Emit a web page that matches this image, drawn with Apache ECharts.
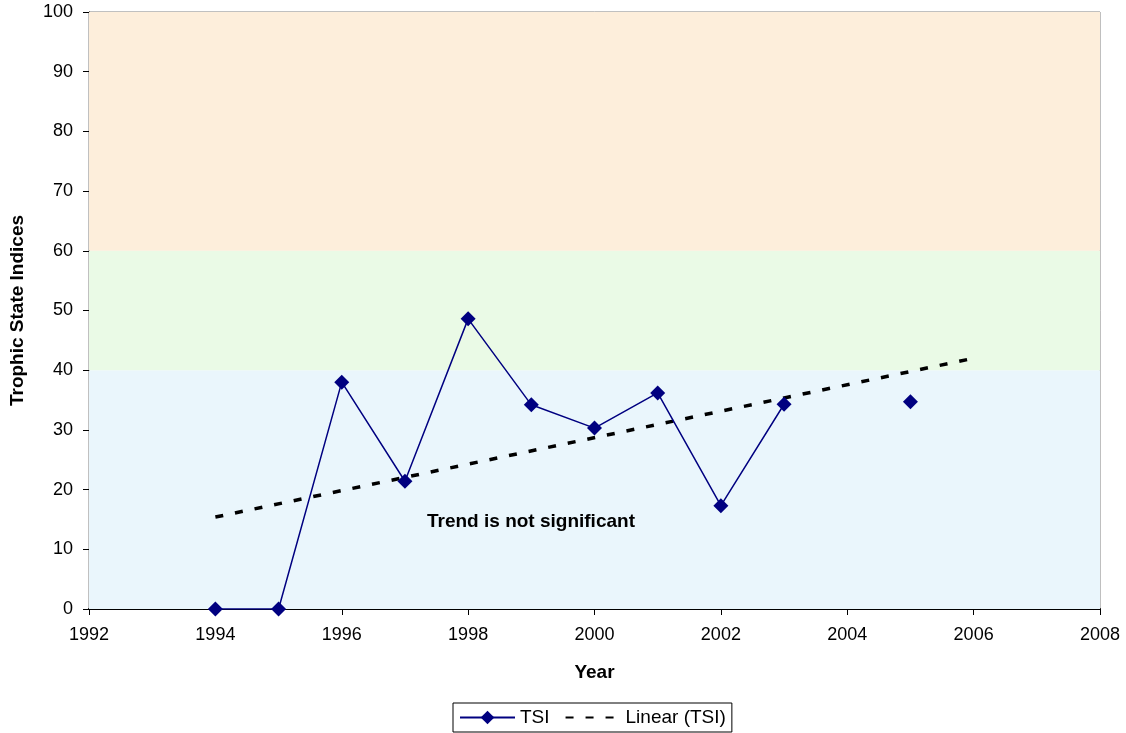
<!DOCTYPE html>
<html>
<head>
<meta charset="utf-8">
<script src="https://cdn.jsdelivr.net/npm/echarts@6/dist/echarts.min.js"></script>
<style>
  html, body { margin: 0; padding: 0; background: #fff; }
  #chart { width: 1126px; height: 733px; }
</style>
</head>
<body>
<div id="chart"></div>
<script>
// TSI readings by year (2004 has no sample)
const years = [1994, 1995, 1996, 1997, 1998, 1999, 2000, 2001, 2002, 2003, 2004, 2005];
const tsi = [0, 0, 38.0, 21.4, 48.6, 34.2, 30.3, 36.2, 17.3, 34.3, null, 34.7];

// linear trend end points
const trendYears = [1994, 2006];
const trendValues = [15.4, 42.0];

// trophic bands
const bands = [
  {from: 0, to: 40, color: '#eaf6fc'},
  {from: 40, to: 60, color: '#eafae6'},
  {from: 60, to: 100, color: '#fdeedb'},
];

const font = 'Arial, "Liberation Sans", sans-serif';

const tsiData = years.map((y, i) => [y, tsi[i] === null ? '-' : tsi[i]]);
const trendData = trendYears.map((y, i) => [y, trendValues[i]]);

const chart = echarts.init(document.getElementById('chart'), null, {renderer: 'canvas'});

chart.setOption({
  animation: false,
  textStyle: {fontFamily: font},
  grid: {
    left: 88,
    right: 26,
    top: 12,
    bottom: 124,
    show: true,
    borderColor: '#808080',
    borderWidth: 1,
  },
  xAxis: {
    type: 'value',
    min: 1992,
    max: 2008,
    interval: 2,
    name: 'Year',
    nameLocation: 'middle',
    nameGap: 54,
    nameTextStyle: {fontWeight: 'bold', fontSize: 19, color: '#000', fontFamily: font},
    axisLine: {onZero: false, lineStyle: {color: '#000', width: 2}},
    axisTick: {show: true, length: 6, lineStyle: {color: '#000'}},
    axisLabel: {color: '#000', fontSize: 18, margin: 17, fontFamily: font, formatter: v => String(v)},
    splitLine: {show: false},
  },
  yAxis: {
    type: 'value',
    min: 0,
    max: 100,
    interval: 10,
    name: 'Trophic State Indices',
    nameLocation: 'middle',
    nameGap: 62,
    nameTextStyle: {fontWeight: 'bold', fontSize: 19, color: '#000', fontFamily: font},
    axisLine: {show: true, lineStyle: {color: '#000', width: 1}},
    axisTick: {show: true, length: 6, lineStyle: {color: '#000'}},
    axisLabel: {color: '#000', fontSize: 18, margin: 16, fontFamily: font},
    splitLine: {show: false},
  },
  legend: {
    bottom: 1,
    left: 453,
    data: ['TSI', {name: 'Linear (TSI)', itemStyle: {opacity: 0}}],
    borderColor: '#000',
    borderWidth: 1,
    padding: [5, 6],
    itemGap: 15,
    itemWidth: 55,
    itemHeight: 17,
    textStyle: {color: '#000', fontSize: 19, fontFamily: font},
  },
  series: [
    {
      name: 'bands',
      type: 'line',
      data: [],
      silent: true,
      markArea: {
        silent: true,
        data: bands.map(b => [
          {yAxis: b.from, itemStyle: {color: b.color}},
          {yAxis: b.to},
        ]),
      },
      z: 0,
    },
    {
      name: 'TSI',
      type: 'line',
      data: tsiData,
      connectNulls: false,
      symbol: 'diamond',
      symbolSize: 15,
      color: '#000080',
      lineStyle: {color: '#000080', width: 1.5},
      itemStyle: {color: '#000080'},
      z: 3,
    },
    {
      name: 'Linear (TSI)',
      type: 'line',
      data: trendData,
      symbol: 'none',
      color: '#000',
      lineStyle: {color: '#000', width: 3.5, type: [8, 12]},
      z: 2,
    },
  ],
  graphic: [
    {
      type: 'text',
      left: 427,
      top: 512,
      z: 10,
      style: {
        text: 'Trend is not significant',
        fill: '#000',
        font: 'bold 19px ' + font,
      },
    },
  ],
});
</script>
</body>
</html>
